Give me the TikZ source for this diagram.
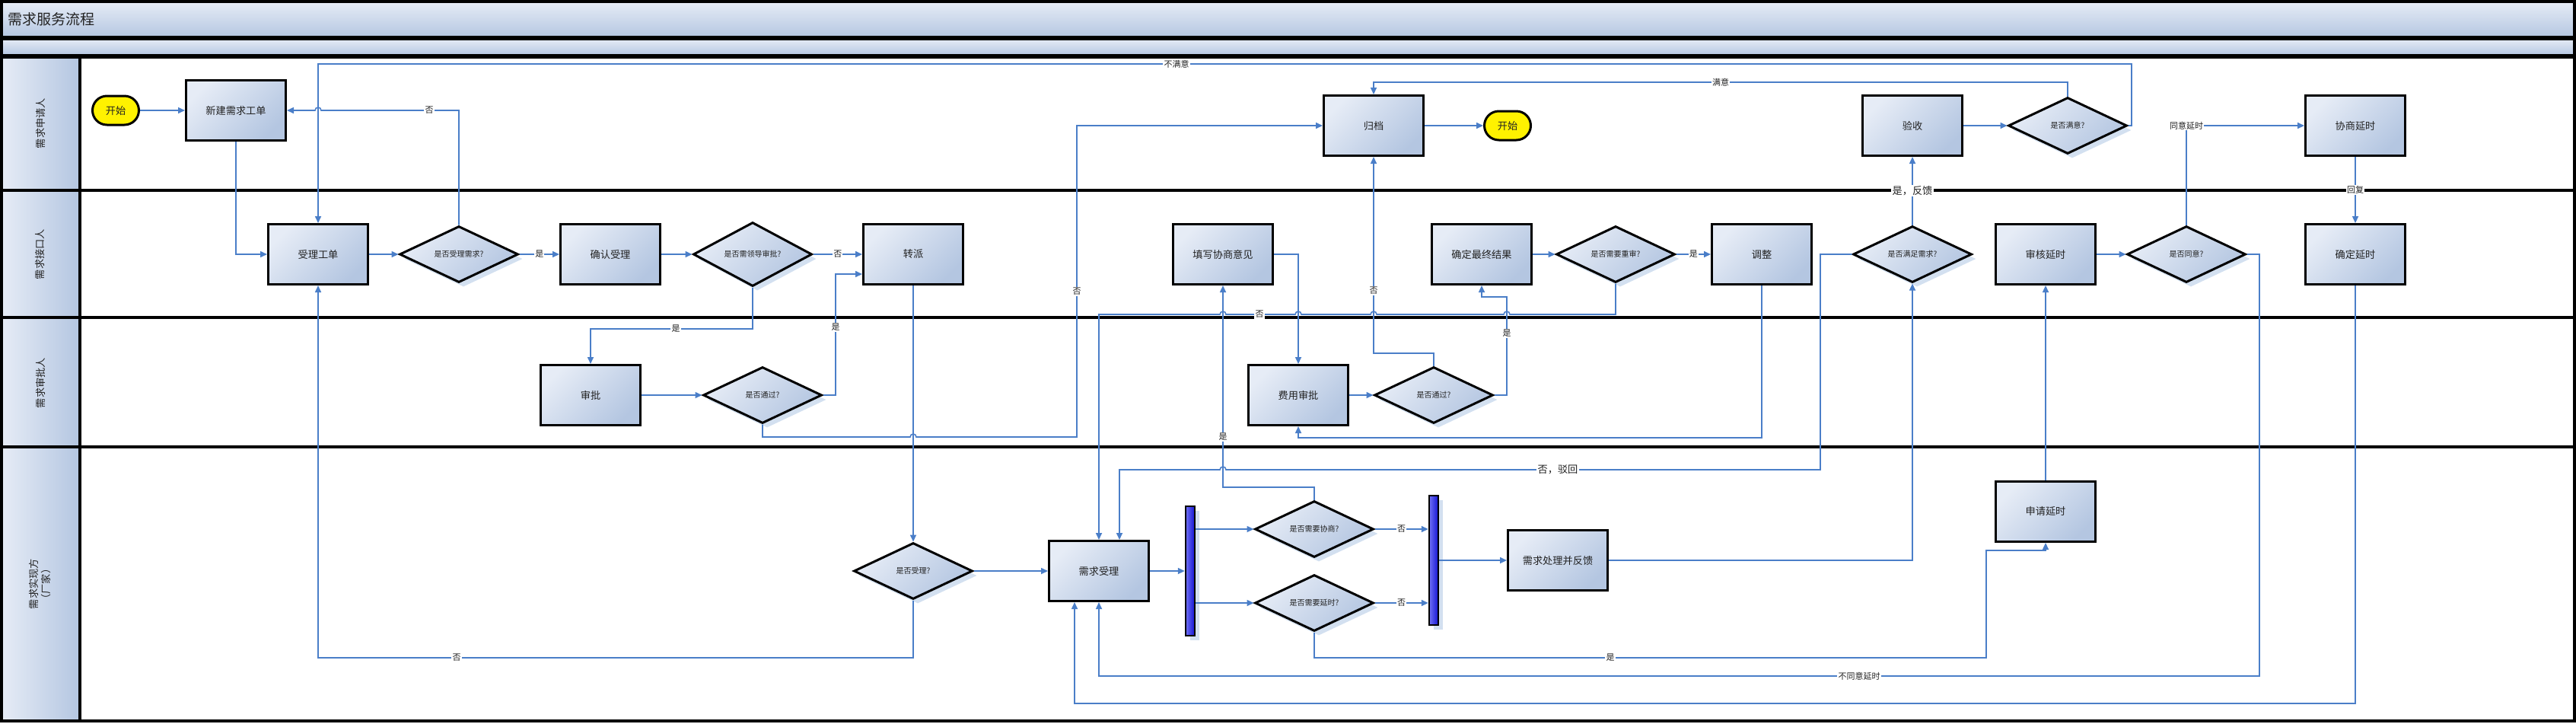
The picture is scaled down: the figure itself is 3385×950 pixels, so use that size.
\documentclass[tikz,border=0pt]{standalone}
\usepackage{fontspec}
\setmainfont{Noto Sans CJK SC}
\usetikzlibrary{shapes.geometric,shapes.misc,arrows.meta,shadows}
\definecolor{flowc}{HTML}{4A7EC8}
\definecolor{boxA}{HTML}{E6ECF6}
\definecolor{boxB}{HTML}{B4C6E1}
\definecolor{shad}{HTML}{D3E0F0}
\definecolor{txt}{HTML}{222222}
\definecolor{barA}{HTML}{7070F5}
\definecolor{barB}{HTML}{1414D2}
\begin{document}
\begin{tikzpicture}[x=0.5pt,y=-0.5pt,
  box/.style={rectangle, draw=black, line width=1.5pt, top color=boxA, bottom color=boxB, shading angle=45,
    minimum width=65.5pt, minimum height=39.5pt, inner sep=1pt, font=\fontsize{6.6pt}{8pt}\selectfont, text=txt},
  dia/.style={diamond, draw=black, line width=1.5pt, top color=boxA, bottom color=boxB, shading angle=45,
    minimum width=78pt, minimum height=37pt, inner sep=0pt, font=\fontsize{5pt}{6pt}\selectfont, text=txt,
    drop shadow={shadow xshift=3pt, shadow yshift=-3pt, fill=shad, opacity=1}},
  term/.style={rounded rectangle, draw=black, line width=1.5pt, fill=yellow, minimum width=32.5pt,
    minimum height=19pt, inner sep=1pt, font=\fontsize{6.6pt}{8pt}\selectfont, text=txt},
  forkbar/.style={rectangle, draw=black, line width=1.2pt, left color=barA, right color=barB,
    minimum width=6pt, minimum height=85pt, inner sep=0pt,
    drop shadow={shadow xshift=3pt, shadow yshift=-3pt, fill=shad, opacity=1}},
  flow/.style={draw=flowc, line width=0.8pt, -{Triangle[length=4.5pt,width=4pt]}},
  lbl/.style={fill=white, inner sep=0.6pt, text=txt, font=\fontsize{5.5pt}{6pt}\selectfont},
  biglbl/.style={lbl, font=\fontsize{6.6pt}{7pt}\selectfont},
  lanelbl/.style={rotate=90, text=txt, font=\fontsize{6.6pt}{8pt}\selectfont, align=center},
  lanebg/.style={left color=boxA, right color=boxB},
  border/.style={draw=black, line width=1.75pt}
]
\useasboundingbox (0,0) rectangle (3385,950);
% ---------- pool ----------
\fill[top color=boxA, bottom color=boxB] (2,2) rectangle (3383,49);
\draw[border] (2,2) rectangle (3383,49);
\fill[top color=boxA, bottom color=boxB] (2,51) rectangle (3383,73);
\draw[border] (2,51) rectangle (3383,73);
\fill[lanebg] (2,75) rectangle (105,250);
\fill[lanebg] (2,250) rectangle (105,417);
\fill[lanebg] (2,417) rectangle (105,587);
\fill[lanebg] (2,587) rectangle (105,947);
\draw[border] (2,75) rectangle (3383,947);
\draw[border] (105,75) -- (105,947);
\draw[border] (2,250) -- (3383,250);
\draw[border] (2,417) -- (3383,417);
\draw[border] (2,587) -- (3383,587);
\node[anchor=west, text=txt, font=\fontsize{9.5pt}{11pt}\selectfont] (title) at (3,25) {需求服务流程};
\node[lanelbl] (L1) at (53,162) {需求申请人};
\node[lanelbl] (L2) at (53,334) {需求接口人};
\node[lanelbl] (L3) at (53,503) {需求审批人};
\node[lanelbl] (L4) at (53,767) {需求实现方\\（厂家）};
% ---------- nodes ----------
\node[term] (nstart) at (152,145) {开始};
\node[box] (nnew) at (310,145) {新建需求工单};
\node[box] (nacc) at (418,334) {受理工单};
\node[dia] (dacc) at (603,334) {是否受理需求?};
\node[box] (nconf) at (802,334) {确认受理};
\node[dia] (dlead) at (989,334) {是否需领导审批?};
\node[box] (ntrans) at (1200,334) {转派};
\node[box] (nappr) at (776,519) {审批};
\node[dia] (dpass1) at (1002,519) {是否通过?};
\node[dia] (dtake) at (1200,750) {是否受理?};
\node[box] (nreq) at (1444,750) {需求受理};
\node[forkbar] (bar1) at (1564,750) {};
\node[dia] (dneg) at (1727,695) {是否需要协商?};
\node[dia] (ddelay) at (1727,792) {是否需要延时?};
\node[forkbar] (bar2) at (1884,736) {};
\node[box] (nproc) at (2047,736) {需求处理并反馈};
\node[box] (nfill) at (1607,334) {填写协商意见};
\node[box] (nfee) at (1706,519) {费用审批};
\node[dia] (dpass2) at (1884,519) {是否通过?};
\node[box] (nfinal) at (1947,334) {确定最终结果};
\node[dia] (drev) at (2123,334) {是否需要重审?};
\node[box] (nadj) at (2315,334) {调整};
\node[dia] (dmeet) at (2513,334) {是否满足需求?};
\node[box] (ncheck) at (2513,165) {验收};
\node[dia] (dsat) at (2717,165) {是否满意?};
\node[box] (narch) at (1805,165) {归档};
\node[term] (nend) at (1981,165) {开始};
\node[box] (napply) at (2688,672) {申请延时};
\node[box] (naudit) at (2688,334) {审核延时};
\node[dia] (dagree) at (2873,334) {是否同意?};
\node[box] (nnego) at (3095,165) {协商延时};
\node[box] (nfix) at (3095,334) {确定延时};
% ---------- connectors ----------
\draw[flow] (nstart.east) -- (nnew.west);
\draw[flow] (nnew.south) |- (nacc.west);
\draw[flow] (nacc.east) -- (dacc.west);
\draw[flow] (dacc.north) -- (603,145) -- (564,145) node[lbl]{否} -- (422,145) arc[start angle=0,end angle=180,radius=2pt] -- (nnew.east);
\draw[flow] (dacc.east) -- node[lbl]{是} (nconf.west);
\draw[flow] (nconf.east) -- (dlead.west);
\draw[flow] (dlead.east) -- node[lbl]{否} (ntrans.west);
\draw[flow] (dlead.south) -- (989,432) -- (888,432) node[lbl]{是} -- (776,432) -- (nappr.north);
\draw[flow] (nappr.east) -- (dpass1.west);
\draw[flow] (dpass1.east) -- (1098,519) -- (1098,430) node[lbl]{是} -- (1098,360) -- ([yshift=-13pt]ntrans.west);
\draw[flow] (ntrans.south) -- (dtake.north);
\draw[flow] (dpass1.south) -- (1002,574) -- (1196,574) arc[start angle=180,end angle=0,radius=2pt] -- (1415,574) -- (1415,383) node[lbl]{否} -- (1415,165) -- (narch.west);
\draw[flow] (dtake.east) -- (nreq.west);
\draw[flow] (dtake.south) -- (1200,864) -- (600,864) node[lbl]{否} -- (418,864) -- (nacc.south);
\draw[flow] (nreq.east) -- (bar1.west);
\draw[flow] (bar1.east |- dneg.west) -- (dneg.west);
\draw[flow] (bar1.east |- ddelay.west) -- (ddelay.west);
\draw[flow] (dneg.east) -- node[lbl]{否} (bar2.west |- dneg.east);
\draw[flow] (ddelay.east) -- node[lbl]{否} (bar2.west |- ddelay.east);
\draw[flow] (bar2.east |- nproc.west) -- (nproc.west);
\draw[flow] (nproc.east) -| (dmeet.south);
\draw[flow] (dmeet.north) -- node[biglbl]{是，反馈} (ncheck.south);
\draw[flow] (ncheck.east) -- (dsat.west);
\draw[flow] (dsat.north) -- (2717,108) -- (2261,108) node[lbl]{满意} -- (1805,108) -- (narch.north);
\draw[flow] (dsat.east) -- (2801,165) -- (2801,84) -- (1546,84) node[lbl]{不满意} -- (418,84) -- (nacc.north);
\draw[flow] (narch.east) -- (nend.west);
\draw[flow] (dmeet.west) -- (2392,334) -- (2392,617) -- (2047,617) node[biglbl]{否，驳回} -- (1611,617) arc[start angle=0,end angle=180,radius=2pt] -- (1471,617) -- ([xshift=13.5pt]nreq.north);
\draw[flow] (nfill.east) -- (1706,334) -- (nfee.north);
\draw[flow] (nfee.east) -- (dpass2.west);
\draw[flow] (drev.south) -- (2123,413) -- (1984,413) arc[start angle=0,end angle=180,radius=2pt] -- (1809,413) arc[start angle=0,end angle=180,radius=2pt] -- (1710,413) arc[start angle=0,end angle=180,radius=2pt] -- (1655,413) node[lbl]{否} -- (1611,413) arc[start angle=0,end angle=180,radius=2pt] -- (1444,413) -- (nreq.north);
\draw[flow] (dpass2.north) -- (1884,464) -- (1805,464) -- (1805,382) node[lbl]{否} -- (narch.south);
\draw[flow] (dpass2.east) -- (1980,519) -- (1980,438) node[lbl]{是} -- (1980,390) -- (1947,390) -- (nfinal.south);
\draw[flow] (nfinal.east) -- (drev.west);
\draw[flow] (drev.east) -- node[lbl]{是} (nadj.west);
\draw[flow] (nadj.south) -- (2315,575) -- (1706,575) -- (nfee.south);
\draw[flow] (dneg.north) -- (1727,640) -- (1607,640) -- (1607,574) node[lbl]{是} -- (nfill.south);
\draw[flow] (ddelay.south) -- (1727,864) -- (2116,864) node[lbl]{是} -- (2610,864) -- (2610,723) -- (2688,723) -- (napply.south);
\draw[flow] (napply.north) -- (naudit.south);
\draw[flow] (naudit.east) -- (dagree.west);
\draw[flow] (dagree.north) -- (2873,165) node[lbl]{同意延时} -- (nnego.west);
\draw[flow] (dagree.east) -- (2969,334) -- (2969,888) -- (2443,888) node[lbl]{不同意延时} -- (1444,888) -- (nreq.south);
\draw[flow] (nnego.south) -- node[lbl]{回复} (nfix.north);
\draw[flow] (nfix.south) -- (3095,924) -- (1412,924) -- ([xshift=-16pt]nreq.south);
\end{tikzpicture}
\end{document}
